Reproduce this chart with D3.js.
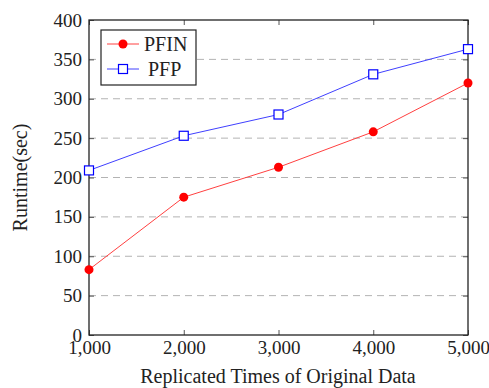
<!DOCTYPE html>
<html><head><meta charset="utf-8">
<script src="https://cdn.jsdelivr.net/npm/d3@7"></script>
<style>body{margin:0;background:#fff}text{font-family:"Liberation Serif","DejaVu Serif",serif}</style>
</head><body><svg id="c" width="489" height="388"></svg>
<script>
const xValues = [1000, 2000, 3000, 4000, 5000];
const pfin = [83, 175, 213, 258, 320];
const pfp = [209, 253, 280, 331, 363];
const yTicks = [0, 50, 100, 150, 200, 250, 300, 350, 400];
const seriesNames = ["PFIN", "PFP"];

const svg = d3.select("#c");
const L = 89, R = 468, T = 20, B = 335;
const x = d3.scaleLinear().domain([1000, 5000]).range([L, R]);
const y = d3.scaleLinear().domain([0, 400]).range([B, T]);

// grid
svg.append("g").selectAll("line").data(yTicks.filter(d => d > 0 && d < 400)).join("line")
  .attr("x1", L).attr("x2", R).attr("y1", d => y(d)).attr("y2", d => y(d))
  .attr("stroke", "#b3b3b3").attr("stroke-width", 1).attr("stroke-dasharray", "7,5");

const fmt = d3.format(",");
const gx = svg.append("g").attr("transform", `translate(0,${B})`)
  .call(d3.axisBottom(x).tickValues(xValues).tickFormat(fmt).tickSizeInner(-5).tickSizeOuter(0).tickPadding(6));
svg.append("g").attr("transform", `translate(0,${T})`)
  .call(d3.axisTop(x).tickValues(xValues).tickFormat("").tickSizeInner(-5).tickSizeOuter(0));
const gy = svg.append("g").attr("transform", `translate(${L},0)`)
  .call(d3.axisLeft(y).tickValues(yTicks).tickSizeInner(-5).tickSizeOuter(0).tickPadding(7));
svg.append("g").attr("transform", `translate(${R},0)`)
  .call(d3.axisRight(y).tickValues(yTicks).tickFormat("").tickSizeInner(-5).tickSizeOuter(0));

svg.selectAll(".domain").remove();
svg.selectAll(".tick line").attr("stroke", "#555");
svg.selectAll(".tick text").attr("font-size", 19).attr("fill", "#222")
  .style("font-family", '"Liberation Serif",serif');

svg.append("rect").attr("x", L).attr("y", T).attr("width", R - L).attr("height", B - T)
  .attr("fill", "none").attr("stroke", "#222").attr("stroke-width", 1.3);

const line = d3.line().x((d, i) => x(xValues[i])).y(d => y(d));
svg.append("path").datum(pfin).attr("d", line).attr("fill", "none").attr("stroke", "#ff4040").attr("stroke-width", 1);
svg.append("path").datum(pfp).attr("d", line).attr("fill", "none").attr("stroke", "#4040ff").attr("stroke-width", 1);

svg.append("g").selectAll("circle").data(pfin).join("circle")
  .attr("cx", (d, i) => x(xValues[i])).attr("cy", d => y(d)).attr("r", 4.5).attr("fill", "#ff0000");
svg.append("g").selectAll("rect").data(pfp).join("rect")
  .attr("x", (d, i) => x(xValues[i]) - 4.5).attr("y", d => y(d) - 4.5).attr("width", 9).attr("height", 9)
  .attr("fill", "#fff").attr("stroke", "#0000ff").attr("stroke-width", 1.2);

const lg = svg.append("g");
lg.append("rect").attr("x", 101).attr("y", 30).attr("width", 95).attr("height", 55)
  .attr("fill", "#fff").attr("stroke", "#222").attr("stroke-width", 1.2);
const ly = [44, 69];
lg.append("line").attr("x1", 107).attr("x2", 139).attr("y1", ly[0]).attr("y2", ly[0]).attr("stroke", "#ff4040");
lg.append("circle").attr("cx", 123).attr("cy", ly[0]).attr("r", 4.5).attr("fill", "#ff0000");
lg.append("line").attr("x1", 107).attr("x2", 139).attr("y1", ly[1]).attr("y2", ly[1]).attr("stroke", "#4040ff");
lg.append("rect").attr("x", 123 - 4.5).attr("y", ly[1] - 4.5).attr("width", 9).attr("height", 9)
  .attr("fill", "#fff").attr("stroke", "#0000ff").attr("stroke-width", 1.2);
lg.selectAll("text").data(seriesNames).join("text")
  .attr("x", (d, i) => i === 0 ? 144 : 148).attr("y", (d, i) => ly[i] + 7)
  .attr("font-size", 20).attr("fill", "#222").text(d => d);

svg.append("text").attr("x", 278).attr("y", 383).attr("text-anchor", "middle")
  .attr("font-size", 20).attr("fill", "#222").text("Replicated Times of Original Data");
svg.append("text").attr("transform", `translate(27,${(T + B) / 2}) rotate(-90)`).attr("text-anchor", "middle")
  .attr("font-size", 20).attr("fill", "#222").text("Runtime(sec)");
</script></body></html>
